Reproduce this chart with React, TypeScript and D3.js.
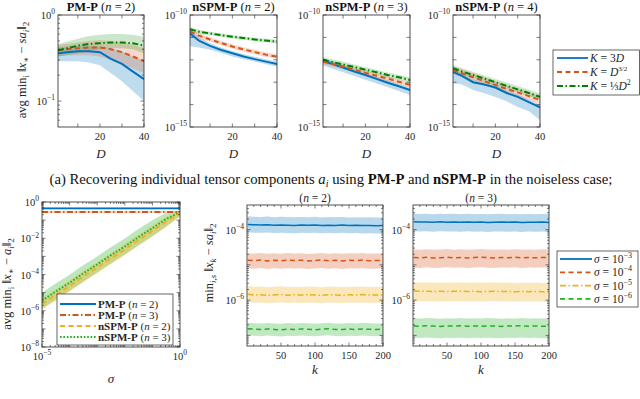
import React from "react";
import * as d3 from "d3";

// ---- colours (MATLAB defaults)
const BLUE = "#0072BD";
const ORANGE = "#D95319";
const YELLOW = "#EDB120";
const DKGREEN = "#008000";
const GREEN = "#22B022";
const SERIF = "'Liberation Serif', 'DejaVu Serif', serif";

// ---- (a) top row: error vs D
const dVals = [1, 5, 10, 15, 20, 25, 30, 35, 40];

// PM-P (n = 2)
const pmK3D = [0.36, 0.37, 0.38, 0.38, 0.37, 0.31, 0.27, 0.22, 0.18];
const pmK3DLo = [0.29, 0.29, 0.29, 0.28, 0.26, 0.21, 0.17, 0.13, 0.1];
const pmK3DHi = [0.42, 0.43, 0.44, 0.44, 0.43, 0.41, 0.38, 0.33, 0.29];
const pmKD15 = [0.39, 0.4, 0.41, 0.42, 0.42, 0.4, 0.37, 0.33, 0.29];
const pmKD15Lo = [0.33, 0.34, 0.34, 0.34, 0.33, 0.3, 0.27, 0.24, 0.21];
const pmKD15Hi = [0.45, 0.46, 0.48, 0.5, 0.51, 0.5, 0.48, 0.45, 0.41];
const pmKD2 = [0.39, 0.41, 0.44, 0.46, 0.47, 0.48, 0.48, 0.47, 0.44];
const pmKD2Lo = [0.33, 0.34, 0.36, 0.38, 0.4, 0.41, 0.41, 0.4, 0.36];
const pmKD2Hi = [0.46, 0.49, 0.53, 0.57, 0.59, 0.6, 0.6, 0.59, 0.56];

// nSPM-P (n = 2)
const n2K3D = [1.5e-11, 7.1e-12, 4.2e-12, 2.75e-12, 1.95e-12, 1.41e-12, 1.07e-12, 8.3e-13, 6.5e-13];
const n2K3DLo = [4.0e-12, 3.5e-12, 2.8e-12, 2.0e-12, 1.41e-12, 1.07e-12, 8.3e-13, 6.3e-13, 5.0e-13];
const n2K3DHi = [2.4e-11, 1.0e-11, 5.5e-12, 3.5e-12, 2.5e-12, 1.8e-12, 1.38e-12, 1.07e-12, 8.3e-13];
const n2KD15 = [1.8e-11, 1.2e-11, 8.1e-12, 5.6e-12, 3.9e-12, 2.9e-12, 2.2e-12, 1.7e-12, 1.38e-12];
const n2KD15Lo = [1.1e-11, 8.5e-12, 6.4e-12, 4.5e-12, 3.1e-12, 2.3e-12, 1.75e-12, 1.35e-12, 1.1e-12];
const n2KD15Hi = [2.4e-11, 1.55e-11, 1.02e-11, 7.1e-12, 4.9e-12, 3.65e-12, 2.8e-12, 2.15e-12, 1.74e-12];
const n2KD2 = [2.3e-11, 1.8e-11, 1.5e-11, 1.26e-11, 1.07e-11, 9.3e-12, 8.1e-12, 7.2e-12, 6.5e-12];
const n2KD2Lo = [1.6e-11, 1.45e-11, 1.25e-11, 1.05e-11, 8.9e-12, 7.8e-12, 6.8e-12, 6.0e-12, 5.4e-12];
const n2KD2Hi = [2.9e-11, 2.2e-11, 1.8e-11, 1.5e-11, 1.28e-11, 1.1e-11, 9.7e-12, 8.6e-12, 7.8e-12];

// nSPM-P (n = 3)
const n3K3D = [8.9e-13, 6.6e-13, 4.5e-13, 3.0e-13, 2.1e-13, 1.4e-13, 9.5e-14, 6.6e-14, 4.5e-14];
const n3K3DLo = [5.5e-13, 4.1e-13, 2.8e-13, 1.9e-13, 1.3e-13, 8.8e-14, 5.9e-14, 4.0e-14, 2.7e-14];
const n3K3DHi = [1.15e-12, 8.6e-13, 5.8e-13, 3.9e-13, 2.7e-13, 1.8e-13, 1.24e-13, 8.6e-14, 5.9e-14];
const n3KD15 = [8.3e-13, 6.6e-13, 4.9e-13, 3.6e-13, 2.6e-13, 1.95e-13, 1.45e-13, 1.05e-13, 7.6e-14];
const n3KD15Lo = [6.4e-13, 5.1e-13, 3.8e-13, 2.8e-13, 2.0e-13, 1.5e-13, 1.1e-13, 8.1e-14, 5.8e-14];
const n3KD15Hi = [1.08e-12, 8.6e-13, 6.4e-13, 4.7e-13, 3.4e-13, 2.5e-13, 1.9e-13, 1.37e-13, 9.9e-14];
const n3KD2 = [1.0e-12, 8.1e-13, 6.2e-13, 4.8e-13, 3.6e-13, 2.8e-13, 2.1e-13, 1.66e-13, 1.26e-13];
const n3KD2Lo = [7.7e-13, 6.2e-13, 4.8e-13, 3.7e-13, 2.8e-13, 2.15e-13, 1.6e-13, 1.28e-13, 9.7e-14];
const n3KD2Hi = [1.3e-12, 1.05e-12, 8.1e-13, 6.2e-13, 4.7e-13, 3.6e-13, 2.7e-13, 2.15e-13, 1.64e-13];

// nSPM-P (n = 4)
const n4K3D = [2.9e-13, 1.9e-13, 1.0e-13, 7.9e-14, 5.8e-14, 3.3e-14, 2.2e-14, 1.3e-14, 7.6e-15];
const n4K3DLo = [8.9e-14, 7.9e-14, 4.5e-14, 3.2e-14, 2.2e-14, 1.4e-14, 7.9e-15, 5.0e-15, 2.0e-15];
const n4K3DHi = [3.8e-13, 2.5e-13, 1.4e-13, 1.05e-13, 7.6e-14, 4.4e-14, 2.9e-14, 1.7e-14, 1.0e-14];
const n4KD15 = [3.5e-13, 2.5e-13, 1.66e-13, 1.12e-13, 7.6e-14, 5.0e-14, 3.5e-14, 2.4e-14, 1.6e-14];
const n4KD15Lo = [2.3e-13, 1.66e-13, 1.1e-13, 7.5e-14, 5.0e-14, 3.3e-14, 2.3e-14, 1.6e-14, 1.06e-14];
const n4KD15Hi = [5.2e-13, 3.8e-13, 2.5e-13, 1.7e-13, 1.14e-13, 7.5e-14, 5.2e-14, 3.6e-14, 2.4e-14];
const n4KD2 = [4.2e-13, 3.0e-13, 2.1e-13, 1.45e-13, 1.0e-13, 6.9e-14, 4.8e-14, 3.3e-14, 2.2e-14];
const n4KD2Lo = [3.0e-13, 2.15e-13, 1.5e-13, 1.04e-13, 7.1e-14, 4.9e-14, 3.4e-14, 2.4e-14, 1.6e-14];
const n4KD2Hi = [5.9e-13, 4.2e-13, 2.9e-13, 2.0e-13, 1.4e-13, 9.7e-14, 6.7e-14, 4.6e-14, 3.1e-14];

// ---- (b) error vs sigma
const sigmaVals = [1e-5, 3e-5, 1e-4, 3e-4, 1e-3, 3e-3, 1e-2, 3e-2, 1e-1, 3e-1, 1];
const pmp2 = [0.44, 0.44, 0.45, 0.44, 0.44, 0.45, 0.44, 0.44, 0.44, 0.45, 0.44];
const pmp2Lo = [0.4, 0.4, 0.41, 0.4, 0.4, 0.41, 0.4, 0.4, 0.4, 0.41, 0.4];
const pmp2Hi = [0.5, 0.5, 0.5, 0.5, 0.5, 0.5, 0.5, 0.5, 0.5, 0.5, 0.5];
const pmp3 = [0.28, 0.28, 0.28, 0.28, 0.28, 0.28, 0.28, 0.28, 0.28, 0.28, 0.28];
const pmp3Lo = [0.25, 0.25, 0.25, 0.25, 0.25, 0.25, 0.25, 0.25, 0.25, 0.25, 0.25];
const pmp3Hi = [0.31, 0.31, 0.31, 0.31, 0.31, 0.31, 0.31, 0.31, 0.31, 0.31, 0.31];
const nspm2 = [2.4e-6, 7.0e-6, 2.3e-5, 7.2e-5, 2.4e-4, 7.3e-4, 2.4e-3, 7.5e-3, 2.5e-2, 7.8e-2, 0.24];
const nspm2Lo = [1.2e-6, 3.5e-6, 1.2e-5, 3.6e-5, 1.2e-4, 3.7e-4, 1.2e-3, 3.8e-3, 1.3e-2, 4.0e-2, 0.16];
const nspm2Hi = [4.8e-6, 1.4e-5, 4.6e-5, 1.45e-4, 4.8e-4, 1.45e-3, 4.8e-3, 1.5e-2, 5.0e-2, 0.15, 0.31];
const nspm3 = [3.6e-6, 1.1e-5, 3.5e-5, 1.1e-4, 3.6e-4, 1.1e-3, 3.5e-3, 1.1e-2, 3.6e-2, 0.11, 0.27];
const nspm3Lo = [1.3e-6, 3.9e-6, 1.25e-5, 3.9e-5, 1.3e-4, 3.9e-4, 1.25e-3, 3.9e-3, 1.3e-2, 4.2e-2, 0.17];
const nspm3Hi = [1.0e-5, 3.1e-5, 9.8e-5, 3.1e-4, 1.0e-3, 3.1e-3, 9.8e-3, 3.1e-2, 0.1, 0.25, 0.34];

// ---- (c) error vs k after deflation
const kVals = [1, 10, 20, 30, 40, 50, 60, 70, 80, 90, 100, 110, 120, 130, 140, 150, 160, 170, 180, 190, 200];
const kS3n2 = [1.4e-4, 1.37e-4, 1.35e-4, 1.38e-4, 1.33e-4, 1.36e-4, 1.34e-4, 1.32e-4, 1.35e-4, 1.33e-4, 1.36e-4, 1.31e-4, 1.34e-4, 1.32e-4, 1.35e-4, 1.31e-4, 1.33e-4, 1.3e-4, 1.32e-4, 1.29e-4, 1.3e-4];
const kS4n2 = [1.36e-5, 1.32e-5, 1.38e-5, 1.3e-5, 1.35e-5, 1.31e-5, 1.37e-5, 1.33e-5, 1.36e-5, 1.29e-5, 1.34e-5, 1.38e-5, 1.32e-5, 1.35e-5, 1.3e-5, 1.36e-5, 1.33e-5, 1.37e-5, 1.31e-5, 1.34e-5, 1.33e-5];
const kS5n2 = [1.48e-6, 1.4e-6, 1.43e-6, 1.37e-6, 1.41e-6, 1.45e-6, 1.38e-6, 1.42e-6, 1.39e-6, 1.44e-6, 1.4e-6, 1.37e-6, 1.43e-6, 1.41e-6, 1.38e-6, 1.42e-6, 1.4e-6, 1.44e-6, 1.39e-6, 1.41e-6, 1.4e-6];
const kS6n2 = [1.55e-7, 1.5e-7, 1.46e-7, 1.52e-7, 1.48e-7, 1.44e-7, 1.51e-7, 1.47e-7, 1.53e-7, 1.49e-7, 1.45e-7, 1.5e-7, 1.54e-7, 1.48e-7, 1.46e-7, 1.51e-7, 1.47e-7, 1.52e-7, 1.49e-7, 1.46e-7, 1.5e-7];
const kS3n3 = [1.68e-4, 1.64e-4, 1.66e-4, 1.62e-4, 1.67e-4, 1.63e-4, 1.65e-4, 1.61e-4, 1.66e-4, 1.62e-4, 1.64e-4, 1.6e-4, 1.63e-4, 1.65e-4, 1.61e-4, 1.64e-4, 1.6e-4, 1.63e-4, 1.61e-4, 1.64e-4, 1.6e-4];
const kS4n3 = [1.62e-5, 1.58e-5, 1.64e-5, 1.57e-5, 1.6e-5, 1.65e-5, 1.59e-5, 1.63e-5, 1.57e-5, 1.61e-5, 1.66e-5, 1.6e-5, 1.58e-5, 1.62e-5, 1.59e-5, 1.64e-5, 1.57e-5, 1.61e-5, 1.59e-5, 1.63e-5, 1.6e-5];
const kS5n3 = [1.82e-6, 1.78e-6, 1.8e-6, 1.76e-6, 1.79e-6, 1.75e-6, 1.78e-6, 1.8e-6, 1.76e-6, 1.78e-6, 1.74e-6, 1.77e-6, 1.79e-6, 1.75e-6, 1.77e-6, 1.72e-6, 1.76e-6, 1.74e-6, 1.77e-6, 1.73e-6, 1.75e-6];
const kS6n3 = [1.86e-7, 1.82e-7, 1.88e-7, 1.84e-7, 1.8e-7, 1.86e-7, 1.83e-7, 1.87e-7, 1.81e-7, 1.85e-7, 1.82e-7, 1.87e-7, 1.84e-7, 1.8e-7, 1.86e-7, 1.83e-7, 1.88e-7, 1.82e-7, 1.85e-7, 1.81e-7, 1.84e-7];
// band edges relative to the line, sigma = 1e-3, 1e-4, 1e-5, 1e-6
const kBandLoN2 = [0.6, 0.59, 0.6, 0.65];
const kBandHiN2 = [1.7, 1.58, 1.7, 1.48];
const kBandLoN3 = [0.54, 0.52, 0.52, 0.46];
const kBandHiN3 = [1.7, 1.7, 1.78, 1.66];

type Series = {
  x: number[];
  y: number[];
  lo?: number[];
  hi?: number[];
  color: string;
  dash?: string;
  width?: number;
  band?: number;
};

type Tick = { v: number; label?: React.ReactNode };

const pow10 = (e: string, fs: number) => (
  <>
    10
    <tspan dy={-fs * 0.45} fontSize={fs * 0.72}>
      {e}
    </tspan>
  </>
);

function Panel(props: {
  id: string;
  x0: number;
  x1: number;
  y0: number;
  y1: number;
  xs: any;
  ys: any;
  series: Series[];
  xTicks: Tick[];
  xMinor?: number[];
  yTicks: Tick[];
  yMinor?: number[];
  fs?: number;
}) {
  const { id, x0, x1, y0, y1, xs, ys, series, xTicks, yTicks } = props;
  const fs = props.fs ?? 10.5;
  const xMinor = props.xMinor ?? [];
  const yMinor = props.yMinor ?? [];
  const tl = 3.5;
  const ml = 2;
  const axisCol = "#262626";
  return (
    <g>
      <defs>
        <clipPath id={id}>
          <rect x={x0} y={y0} width={x1 - x0} height={y1 - y0} />
        </clipPath>
      </defs>
      <rect x={x0} y={y0} width={x1 - x0} height={y1 - y0} fill="#fff" />
      <g clipPath={`url(#${id})`}>
        {series
          .filter((s) => s.lo && s.hi)
          .map((s, i) => {
            const a = d3
              .area<number>()
              .x((_, j) => xs(s.x[j]))
              .y0((_, j) => ys(s.lo![j]))
              .y1((_, j) => ys(s.hi![j]));
            return <path key={"b" + i} d={a(s.y) || ""} fill={s.color} fillOpacity={s.band ?? 0.28} stroke="none" />;
          })}
        {series.map((s, i) => {
          const l = d3
            .line<number>()
            .x((_, j) => xs(s.x[j]))
            .y((d) => ys(d));
          return (
            <path
              key={"l" + i}
              d={l(s.y) || ""}
              fill="none"
              stroke={s.color}
              strokeWidth={s.width ?? 1.8}
              strokeDasharray={s.dash}
            />
          );
        })}
      </g>
      <g stroke={axisCol} strokeWidth={0.6}>
        {xTicks.map((t, i) => (
          <g key={"xt" + i}>
            <line x1={xs(t.v)} x2={xs(t.v)} y1={y1} y2={y1 - tl} />
            <line x1={xs(t.v)} x2={xs(t.v)} y1={y0} y2={y0 + tl} />
          </g>
        ))}
        {xMinor.map((v, i) => (
          <g key={"xm" + i}>
            <line x1={xs(v)} x2={xs(v)} y1={y1} y2={y1 - ml} />
            <line x1={xs(v)} x2={xs(v)} y1={y0} y2={y0 + ml} />
          </g>
        ))}
        {yTicks.map((t, i) => (
          <g key={"yt" + i}>
            <line x1={x0} x2={x0 + tl} y1={ys(t.v)} y2={ys(t.v)} />
            <line x1={x1} x2={x1 - tl} y1={ys(t.v)} y2={ys(t.v)} />
          </g>
        ))}
        {yMinor.map((v, i) => (
          <g key={"ym" + i}>
            <line x1={x0} x2={x0 + ml} y1={ys(v)} y2={ys(v)} />
            <line x1={x1} x2={x1 - ml} y1={ys(v)} y2={ys(v)} />
          </g>
        ))}
      </g>
      <rect x={x0} y={y0} width={x1 - x0} height={y1 - y0} fill="none" stroke={axisCol} strokeWidth={0.8} />
      <g fontFamily={SERIF} fontSize={fs} fill="#262626">
        {xTicks
          .filter((t) => t.label !== undefined)
          .map((t, i) => (
            <text key={"xl" + i} x={xs(t.v)} y={y1 + 13} textAnchor="middle">
              {t.label}
            </text>
          ))}
        {yTicks
          .filter((t) => t.label !== undefined)
          .map((t, i) => (
            <text key={"yl" + i} x={x0 - 3} y={ys(t.v) + 4} textAnchor="end">
              {t.label}
            </text>
          ))}
      </g>
    </g>
  );
}

function minorLog(lo: number, hi: number): number[] {
  const out: number[] = [];
  for (let e = Math.floor(Math.log10(lo)); e <= Math.ceil(Math.log10(hi)); e++) {
    for (let m = 2; m <= 9; m++) {
      const v = m * Math.pow(10, e);
      if (v > lo && v < hi) out.push(v);
    }
  }
  return out;
}

function LegendRow(props: { x: number; y: number; len: number; color: string; dash?: string; children: React.ReactNode; fs: number }) {
  const { x, y, len, color, dash, children, fs } = props;
  return (
    <g>
      <line x1={x} x2={x + len} y1={y} y2={y} stroke={color} strokeWidth={1.8} strokeDasharray={dash} />
      <text x={x + len + 2} y={y + 4} fontFamily={SERIF} fontSize={fs} fill="#262626">
        {children}
      </text>
    </g>
  );
}

const I = (t: string) => <tspan fontStyle="italic">{t}</tspan>;

const DASH = "5,3.5";
const DASHDOT = "6,2.5,1.5,2.5";
const DOT = "1.6,1.8";

export default function App() {
  // top row
  const topPanels = [
    { x0: 58, x1: 144, title: "PM-P", n: "2" },
    { x0: 190, x1: 277, title: "nSPM-P", n: "2" },
    { x0: 323, x1: 410, title: "nSPM-P", n: "3" },
    { x0: 453, x1: 540, title: "nSPM-P", n: "4" },
  ];
  const topData = [
    [pmK3D, pmK3DLo, pmK3DHi, pmKD15, pmKD15Lo, pmKD15Hi, pmKD2, pmKD2Lo, pmKD2Hi],
    [n2K3D, n2K3DLo, n2K3DHi, n2KD15, n2KD15Lo, n2KD15Hi, n2KD2, n2KD2Lo, n2KD2Hi],
    [n3K3D, n3K3DLo, n3K3DHi, n3KD15, n3KD15Lo, n3KD15Hi, n3KD2, n3KD2Lo, n3KD2Hi],
    [n4K3D, n4K3DLo, n4K3DHi, n4KD15, n4KD15Lo, n4KD15Hi, n4KD2, n4KD2Lo, n4KD2Hi],
  ];
  const tY0 = 15;
  const tY1 = 127;

  // bottom
  const blX0 = 42,
    blX1 = 180,
    blY0 = 202,
    blY1 = 347;
  const xSig = d3.scaleLog().domain([1e-5, 1]).range([blX0, blX1]);
  const ySig = d3.scaleLog().domain([1e-8, 1]).range([blY1, blY0]);

  const kY0 = 205,
    kY1 = 346;
  const kPanels = [
    { x0: 247, x1: 383, n: "2", data: [kS3n2, kS4n2, kS5n2, kS6n2], lo: kBandLoN2, hi: kBandHiN2 },
    { x0: 413, x1: 549, n: "3", data: [kS3n3, kS4n3, kS5n3, kS6n3], lo: kBandLoN3, hi: kBandHiN3 },
  ];
  const kColors = [BLUE, ORANGE, YELLOW, GREEN];
  const kDashes = [undefined, DASH, DASHDOT, DASH];

  const ylabFs = 12.5;
  const subFs = 9;

  return (
    <svg width={640} height={399} style={{ position: "absolute", left: 0, top: 0, background: "#fff" }}>
      <rect width={640} height={399} fill="#fff" />
      {topPanels.map((p, pi) => {
        const xs = d3.scaleLinear().domain([1, 40]).range([p.x0, p.x1]);
        const ys = pi === 0 ? d3.scaleLog().domain([0.05, 1]).range([tY1, tY0]) : d3.scaleLog().domain([1e-15, 1e-10]).range([tY1, tY0]);
        const d = topData[pi];
        const series: Series[] = [
          { x: dVals, y: d[0], lo: d[1], hi: d[2], color: BLUE, band: 0.25, width: 2 },
          { x: dVals, y: d[3], lo: d[4], hi: d[5], color: ORANGE, dash: DASH, band: 0.22, width: 2 },
          { x: dVals, y: d[6], lo: d[7], hi: d[8], color: DKGREEN, dash: DASHDOT, band: 0.2, width: 2 },
        ];
        const yTicks: Tick[] =
          pi === 0
            ? [
                { v: 1, label: pow10("0", 10.5) },
                { v: 0.1, label: pow10("−1", 10.5) },
              ]
            : [
                { v: 1e-10, label: pow10("−10", 10.5) },
                { v: 1e-11 },
                { v: 1e-12 },
                { v: 1e-13 },
                { v: 1e-14 },
                { v: 1e-15, label: pow10("−15", 10.5) },
              ];
        return (
          <g key={pi}>
            <Panel
              id={"top" + pi}
              x0={p.x0}
              x1={p.x1}
              y0={tY0}
              y1={tY1}
              xs={xs}
              ys={ys}
              series={series}
              xTicks={[{ v: 10 }, { v: 20, label: "20" }, { v: 30 }, { v: 40, label: "40" }]}
              yTicks={yTicks}
              yMinor={pi === 0 ? minorLog(0.05, 1) : []}
            />
            <text x={(p.x0 + p.x1) / 2} y={11} textAnchor="middle" fontFamily={SERIF} fontSize={12.5} fill="#111">
              <tspan fontWeight="bold">{p.title}</tspan> ({I("n")} = {p.n})
            </text>
            <text x={(p.x0 + p.x1) / 2} y={158} textAnchor="middle" fontFamily={SERIF} fontSize={13} fontStyle="italic" fill="#262626">
              D
            </text>
          </g>
        );
      })}

      {/* y label top */}
      <text transform="translate(26,70) rotate(-90)" textAnchor="middle" fontFamily={SERIF} fontSize={ylabFs} fill="#262626">
        avg min<tspan dy={3} fontSize={subFs}>i</tspan>
        <tspan dy={-3}> ‖</tspan>
        {I("x")}
        <tspan dy={3} fontSize={subFs}>∗</tspan>
        <tspan dy={-3}> − </tspan>
        {I("sa")}
        <tspan dy={3} fontSize={subFs} fontStyle="italic">i</tspan>
        <tspan dy={-3}>‖</tspan>
        <tspan dy={3} fontSize={subFs}>2</tspan>
      </text>

      {/* top legend */}
      <g>
        <rect x={553} y={50} width={86.5} height={45} fill="#fff" stroke="#262626" strokeWidth={0.7} />
        <LegendRow x={557} y={58} len={31} color={BLUE} fs={11.5}>
          {I("K")} = 3{I("D")}
        </LegendRow>
        <LegendRow x={557} y={72} len={31} color={ORANGE} dash={DASH} fs={11.5}>
          {I("K")} = {I("D")}
          <tspan dy={-5} fontSize={7}>3/2</tspan>
        </LegendRow>
        <LegendRow x={557} y={86} len={31} color={DKGREEN} dash={DASHDOT} fs={11.5}>
          {I("K")} = ⅓{I("D")}
          <tspan dy={-5} fontSize={8}>2</tspan>
        </LegendRow>
      </g>

      {/* caption (a) */}
      <text x={331} y={184} textAnchor="middle" fontFamily={SERIF} fontSize={14.7} fill="#111">
        (a) Recovering individual tensor components {I("a")}
        <tspan dy={3} fontSize={10} fontStyle="italic">i</tspan>
        <tspan dy={-3}> using </tspan>
        <tspan fontWeight="bold">PM-P</tspan> and <tspan fontWeight="bold">nSPM-P</tspan> in the noiseless case;
      </text>

      {/* (b) sigma panel */}
      <Panel
        id="sig"
        x0={blX0}
        x1={blX1}
        y0={blY0}
        y1={blY1}
        xs={xSig}
        ys={ySig}
        series={[
          { x: sigmaVals, y: pmp2, lo: pmp2Lo, hi: pmp2Hi, color: BLUE, band: 0.25 },
          { x: sigmaVals, y: pmp3, lo: pmp3Lo, hi: pmp3Hi, color: ORANGE, dash: DASHDOT, band: 0.25 },
          { x: sigmaVals, y: nspm3, lo: nspm3Lo, hi: nspm3Hi, color: GREEN, dash: DOT, band: 0.3, width: 2 },
          { x: sigmaVals, y: nspm2, lo: nspm2Lo, hi: nspm2Hi, color: YELLOW, dash: DASH, band: 0.35 },
        ]}
        xTicks={[
          { v: 1e-5, label: pow10("−5", 10.5) },
          { v: 1e-4 },
          { v: 1e-3 },
          { v: 1e-2 },
          { v: 1e-1 },
          { v: 1, label: pow10("0", 10.5) },
        ]}
        yTicks={[
          { v: 1, label: pow10("0", 10.5) },
          { v: 1e-1 },
          { v: 1e-2, label: pow10("−2", 10.5) },
          { v: 1e-3 },
          { v: 1e-4, label: pow10("−4", 10.5) },
          { v: 1e-5 },
          { v: 1e-6, label: pow10("−6", 10.5) },
          { v: 1e-7 },
          { v: 1e-8, label: pow10("−8", 10.5) },
        ]}
        yMinor={minorLog(1e-8, 1)}
        xMinor={minorLog(1e-5, 1)}
      />
      <g>
        <rect x={57} y={294} width={116} height={51} fill="#fff" stroke="#262626" strokeWidth={0.7} />
        <LegendRow x={60} y={304} len={36} color={BLUE} fs={11}>
          <tspan fontWeight="bold">PM-P</tspan> ({I("n")} = 2)
        </LegendRow>
        <LegendRow x={60} y={315} len={36} color={ORANGE} dash={DASHDOT} fs={11}>
          <tspan fontWeight="bold">PM-P</tspan> ({I("n")} = 3)
        </LegendRow>
        <LegendRow x={60} y={326} len={36} color={YELLOW} dash={DASH} fs={11}>
          <tspan fontWeight="bold">nSPM-P</tspan> ({I("n")} = 2)
        </LegendRow>
        <LegendRow x={60} y={337} len={36} color={GREEN} dash={DOT} fs={11}>
          <tspan fontWeight="bold">nSPM-P</tspan> ({I("n")} = 3)
        </LegendRow>
      </g>
      <text x={111} y={383} textAnchor="middle" fontFamily={SERIF} fontSize={13} fontStyle="italic" fill="#262626">
        σ
      </text>
      <text transform="translate(11,284) rotate(-90)" textAnchor="middle" fontFamily={SERIF} fontSize={ylabFs} fill="#262626">
        avg min<tspan dy={3} fontSize={subFs}>i</tspan>
        <tspan dy={-3}> ‖</tspan>
        {I("x")}
        <tspan dy={3} fontSize={subFs}>∗</tspan>
        <tspan dy={-3}> − </tspan>
        {I("a")}
        <tspan dy={3} fontSize={subFs} fontStyle="italic">i</tspan>
        <tspan dy={-3}>‖</tspan>
        <tspan dy={3} fontSize={subFs}>2</tspan>
      </text>

      {/* (c) k panels */}
      {kPanels.map((p, pi) => {
        const xs = d3.scaleLinear().domain([0, 200]).range([p.x0, p.x1]);
        const ys = d3.scaleLog().domain([5e-8, 5e-4]).range([kY1, kY0]);
        const series: Series[] = p.data.map((arr, si) => ({
          x: kVals,
          y: arr,
          lo: arr.map((v) => v * p.lo[si]),
          hi: arr.map((v) => v * p.hi[si]),
          color: kColors[si],
          dash: kDashes[si],
          width: 1.5,
          band: si === 2 ? 0.3 : 0.28,
        }));
        return (
          <g key={"k" + pi}>
            <Panel
              id={"kp" + pi}
              x0={p.x0}
              x1={p.x1}
              y0={kY0}
              y1={kY1}
              xs={xs}
              ys={ys}
              series={series}
              xTicks={[
                { v: 50, label: "50" },
                { v: 100, label: "100" },
                { v: 150, label: "150" },
                { v: 200, label: "200" },
              ]}
              xMinor={[10, 20, 30, 40, 60, 70, 80, 90, 110, 120, 130, 140, 160, 170, 180, 190]}
              yTicks={[
                { v: 1e-4, label: pow10("−4", 10.5) },
                { v: 1e-5 },
                { v: 1e-6, label: pow10("−6", 10.5) },
                { v: 1e-7 },
              ]}
              yMinor={minorLog(5e-8, 5e-4)}
            />
            <text x={(p.x0 + p.x1) / 2} y={202} textAnchor="middle" fontFamily={SERIF} fontSize={11.5} fill="#262626">
              ({I("n")} = {p.n})
            </text>
            <text x={(p.x0 + p.x1) / 2} y={374} textAnchor="middle" fontFamily={SERIF} fontSize={13} fontStyle="italic" fill="#262626">
              k
            </text>
          </g>
        );
      })}
      <text transform="translate(213,263) rotate(-90)" textAnchor="middle" fontFamily={SERIF} fontSize={ylabFs} fill="#262626">
        min<tspan dy={3} fontSize={subFs} fontStyle="italic">i,s</tspan>
        <tspan dy={-3}> ‖</tspan>
        {I("x")}
        <tspan dy={3} fontSize={subFs} fontStyle="italic">k</tspan>
        <tspan dy={-3}> − </tspan>
        {I("sa")}
        <tspan dy={3} fontSize={subFs} fontStyle="italic">i</tspan>
        <tspan dy={-3}>‖</tspan>
        <tspan dy={3} fontSize={subFs}>2</tspan>
      </text>
      <g>
        <rect x={557} y={251} width={81} height={56} fill="#fff" stroke="#262626" strokeWidth={0.7} />
        {["−3", "−4", "−5", "−6"].map((e, i) => (
          <LegendRow key={e} x={560} y={259 + i * 13.3} len={32} color={kColors[i]} dash={kDashes[i]} fs={11.5}>
            {I("σ")} = 10
            <tspan dy={-5} fontSize={8}>{e}</tspan>
          </LegendRow>
        ))}
      </g>

      {/* bottom captions (cut off by the frame, as in the source figure) */}
      <text x={0} y={408} fontFamily={SERIF} fontSize={13} fill="#111">
        (b) <tspan fontWeight="bold">PM-P</tspan> and <tspan fontWeight="bold">nSPM-P</tspan> applied to
      </text>
      <text x={213} y={408} fontFamily={SERIF} fontSize={13} fill="#111">
        (c) Error of individual tensor components recovered using <tspan fontWeight="bold">nSPM-P</tspan> for deflation
      </text>
    </svg>
  );
}
